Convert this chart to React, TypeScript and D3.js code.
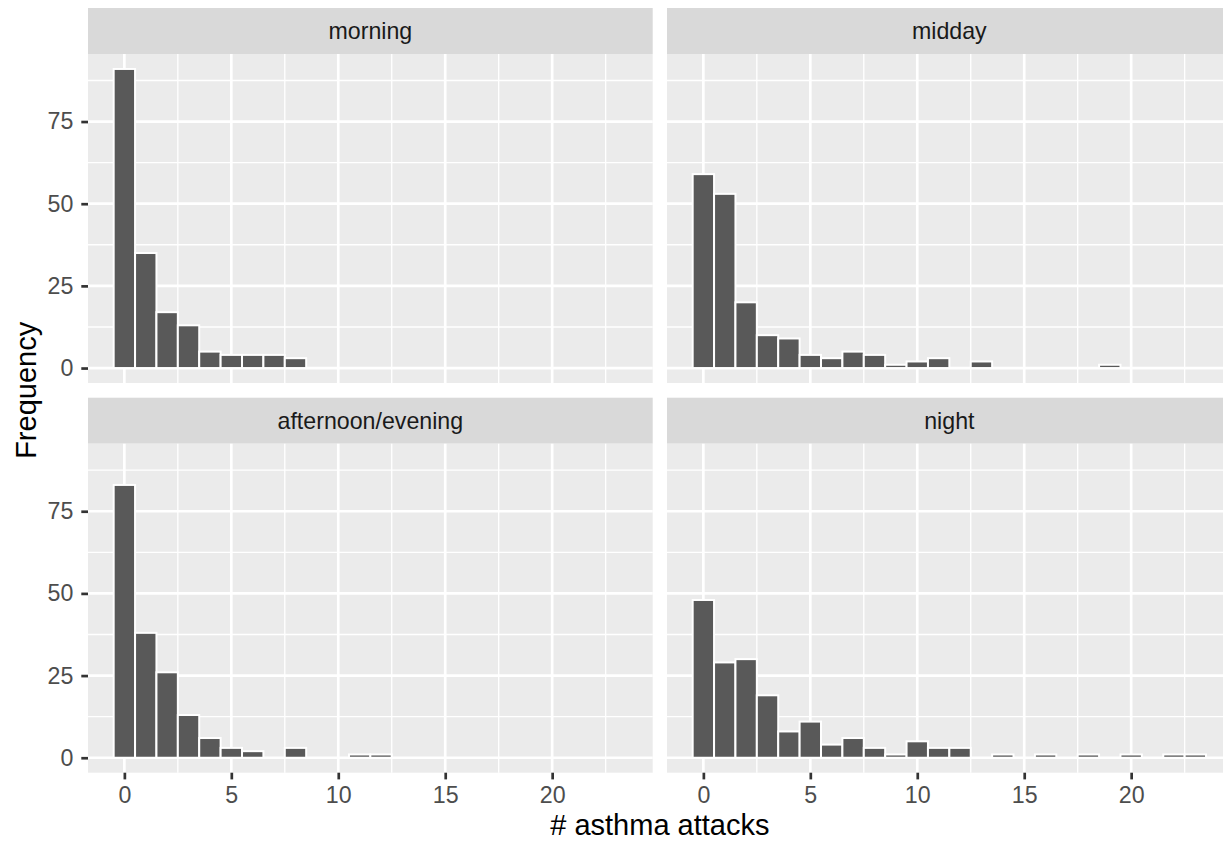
import React, { useRef, useEffect } from "react";
import * as d3 from "d3";

// counts per bin (bin centred on 0, 1, 2, ... 23)
const panelNames = ["morning", "midday", "afternoon/evening", "night"];
const morningCounts = [91, 35, 17, 13, 5, 4, 4, 4, 3, 0, 0, 0, 0, 0, 0, 0, 0, 0, 0, 0, 0, 0, 0, 0];
const middayCounts = [59, 53, 20, 10, 9, 4, 3, 5, 4, 1, 2, 3, 0, 2, 0, 0, 0, 0, 0, 1, 0, 0, 0, 0];
const afternoonCounts = [83, 38, 26, 13, 6, 3, 2, 0, 3, 0, 0, 1, 1, 0, 0, 0, 0, 0, 0, 0, 0, 0, 0, 0];
const nightCounts = [48, 29, 30, 19, 8, 11, 4, 6, 3, 1, 5, 3, 3, 0, 1, 0, 1, 0, 1, 0, 1, 0, 1, 1];
const xTicks = [0, 5, 10, 15, 20];
const xMinor = [2.5, 7.5, 12.5, 17.5, 22.5];
const yTicks = [0, 25, 50, 75];
const yMinor = [12.5, 37.5, 62.5, 87.5];

const WIDTH = 1223;
const HEIGHT = 841;
const FONT = "'Liberation Sans', Arial, Helvetica, sans-serif";

function FacetHistogram() {
  const svgRef = useRef<SVGSVGElement>(null);

  useEffect(() => {
    document.body.style.margin = "0";
    const svg = d3.select(svgRef.current);
    svg.selectAll("*").remove();

    const allCounts = [morningCounts, middayCounts, afternoonCounts, nightCounts];
    const binMin = -0.5;
    const binMax = morningCounts.length - 0.5;
    const xPad = (binMax - binMin) * 0.05;
    const yMax = d3.max(allCounts, (c) => d3.max(c)) || 1;
    const yPad = yMax * 0.05;

    // panel geometry
    const colX = [88, 667];
    const panelW = 564.7;
    const stripTop = [8, 397.7];
    const stripH = 46;
    const panelH = 329;

    const x0 = d3.scaleLinear().domain([binMin - xPad, binMax + xPad]).range([0, panelW]);
    const y0 = d3.scaleLinear().domain([-yPad, yMax + yPad]).range([panelH, 0]);

    allCounts.forEach((counts, i) => {
      const col = i % 2;
      const row = Math.floor(i / 2);
      const g = svg
        .append("g")
        .attr("transform", `translate(${colX[col]}, ${stripTop[row]})`);

      // strip
      g.append("rect")
        .attr("width", panelW)
        .attr("height", stripH)
        .attr("fill", "#D9D9D9");
      g.append("text")
        .attr("x", panelW / 2)
        .attr("y", stripH / 2)
        .attr("text-anchor", "middle")
        .attr("dy", "0.35em")
        .attr("fill", "#1A1A1A")
        .style("font-size", "23.2px")
        .style("font-family", FONT)
        .text(panelNames[i]);

      const p = g.append("g").attr("transform", `translate(0, ${stripH})`);
      p.append("rect")
        .attr("width", panelW)
        .attr("height", panelH)
        .attr("fill", "#EBEBEB");

      // grid
      p.selectAll(".xminor")
        .data(xMinor)
        .enter()
        .append("line")
        .attr("x1", (d) => x0(d))
        .attr("x2", (d) => x0(d))
        .attr("y1", 0)
        .attr("y2", panelH)
        .attr("stroke", "white")
        .attr("stroke-width", 1.37);
      p.selectAll(".yminor")
        .data(yMinor)
        .enter()
        .append("line")
        .attr("x1", 0)
        .attr("x2", panelW)
        .attr("y1", (d) => y0(d))
        .attr("y2", (d) => y0(d))
        .attr("stroke", "white")
        .attr("stroke-width", 1.37);
      p.selectAll(".xmajor")
        .data(xTicks)
        .enter()
        .append("line")
        .attr("x1", (d) => x0(d))
        .attr("x2", (d) => x0(d))
        .attr("y1", 0)
        .attr("y2", panelH)
        .attr("stroke", "white")
        .attr("stroke-width", 2.7);
      p.selectAll(".ymajor")
        .data(yTicks)
        .enter()
        .append("line")
        .attr("x1", 0)
        .attr("x2", panelW)
        .attr("y1", (d) => y0(d))
        .attr("y2", (d) => y0(d))
        .attr("stroke", "white")
        .attr("stroke-width", 2.7);

      // bars
      const bins = counts.map((c, k) => ({ x: k, count: c })).filter((b) => b.count > 0);
      p.selectAll(".bar")
        .data(bins)
        .enter()
        .append("rect")
        .attr("x", (d) => x0(d.x - 0.5))
        .attr("y", (d) => y0(d.count))
        .attr("width", (d) => x0(d.x + 0.5) - x0(d.x - 0.5))
        .attr("height", (d) => y0(0) - y0(d.count))
        .attr("fill", "#595959")
        .attr("stroke", "white")
        .attr("stroke-width", 2);

      // axes
      if (col === 0) {
        const ya = p
          .append("g")
          .call(d3.axisLeft(y0).tickValues(yTicks).tickSize(6.7).tickPadding(8).tickSizeOuter(0));
        ya.select(".domain").remove();
        ya.selectAll("line").attr("stroke", "#333333").attr("stroke-width", 2.7);
        ya.selectAll("text")
          .attr("fill", "#4D4D4D")
          .style("font-size", "23.2px")
          .style("font-family", FONT);
      }
      if (row === 1) {
        const xa = p
          .append("g")
          .attr("transform", `translate(0, ${panelH})`)
          .call(d3.axisBottom(x0).tickValues(xTicks).tickSize(6.7).tickPadding(7.5).tickSizeOuter(0));
        xa.select(".domain").remove();
        xa.selectAll("line").attr("stroke", "#333333").attr("stroke-width", 2.7);
        xa.selectAll("text")
          .attr("fill", "#4D4D4D")
          .style("font-size", "23.2px")
          .style("font-family", FONT);
      }
    });

    // axis titles
    svg
      .append("text")
      .attr("x", (colX[0] + colX[1] + panelW) / 2)
      .attr("y", 835)
      .attr("text-anchor", "middle")
      .attr("fill", "black")
      .style("font-size", "29px")
      .style("font-family", FONT)
      .text("# asthma attacks");

    svg
      .append("text")
      .attr("transform", `translate(36, ${(stripTop[0] + stripTop[1] + stripH + panelH) / 2}) rotate(-90)`)
      .attr("text-anchor", "middle")
      .attr("fill", "black")
      .style("font-size", "29px")
      .style("font-family", FONT)
      .text("Frequency");
  }, []);

  return (
    <svg
      ref={svgRef}
      width={WIDTH}
      height={HEIGHT}
      style={{ display: "block", position: "absolute", left: 0, top: 0, background: "white" }}
    ></svg>
  );
}

export default function App() {
  return <FacetHistogram />;
}
